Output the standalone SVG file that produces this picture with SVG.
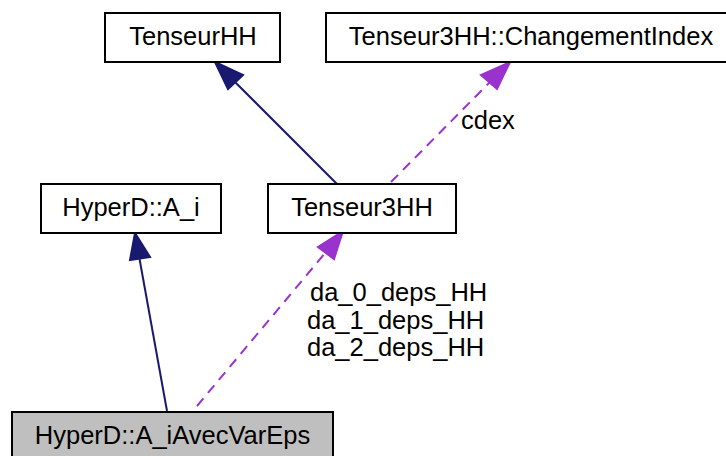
<svg xmlns="http://www.w3.org/2000/svg" width="726" height="456" viewBox="0 0 726 456">
<style>
.box{fill:#ffffff;stroke:#000000;stroke-width:2}
.sel{fill:#bfbfbf;stroke:#000000;stroke-width:2}
text{font-family:"Liberation Sans",Arial,sans-serif;font-size:25.5px;fill:#000000}
.c{text-anchor:middle}
.inh{stroke:#191970;stroke-width:2;fill:none}
.inhh{fill:#191970;stroke:#191970;stroke-width:2}
.use{stroke:#9a32cd;stroke-width:2;fill:none;stroke-dasharray:10,7}
.useh{fill:#9a32cd;stroke:#9a32cd;stroke-width:2}
</style>
<g id="connectors">
<line class="inh" x1="337" y1="184" x2="233" y2="80"/>
<polygon class="inhh" points="215,62 243,75 228,89"/>
<line class="use" x1="391" y1="182" x2="490" y2="82"/>
<polygon class="useh" points="510,62 497,89 481,75"/>
<text x="461" y="129">cdex</text>
<line class="inh" x1="167" y1="411" x2="139" y2="256"/>
<polygon class="inhh" points="135,233 150,257 130,260"/>
<line class="use" x1="197" y1="406" x2="326" y2="252"/>
<polygon class="useh" points="343,231 334,259 318,247"/>
<text x="310" y="301">da_0_deps_HH</text>
<text x="307" y="329">da_1_deps_HH</text>
<text x="307" y="356">da_2_deps_HH</text>
</g>
<g id="TenseurHH">
<rect class="box" x="105" y="13" width="175" height="49"/>
<text class="c" x="193" y="45">TenseurHH</text>
</g>
<g id="ChangementIndex">
<rect class="box" x="326" y="13" width="412" height="49"/>
<text class="c" x="531" y="45">Tenseur3HH::ChangementIndex</text>
</g>
<g id="A_i">
<rect class="box" x="41" y="184" width="180" height="49"/>
<text class="c" x="131" y="216">HyperD::A_i</text>
</g>
<g id="Tenseur3HH">
<rect class="box" x="268" y="184" width="188" height="49"/>
<text class="c" x="362" y="216">Tenseur3HH</text>
</g>
<g id="A_iAvecVarEps">
<rect class="sel" x="12" y="412" width="321" height="52"/>
<text class="c" x="172.5" y="444">HyperD::A_iAvecVarEps</text>
</g>
</svg>
